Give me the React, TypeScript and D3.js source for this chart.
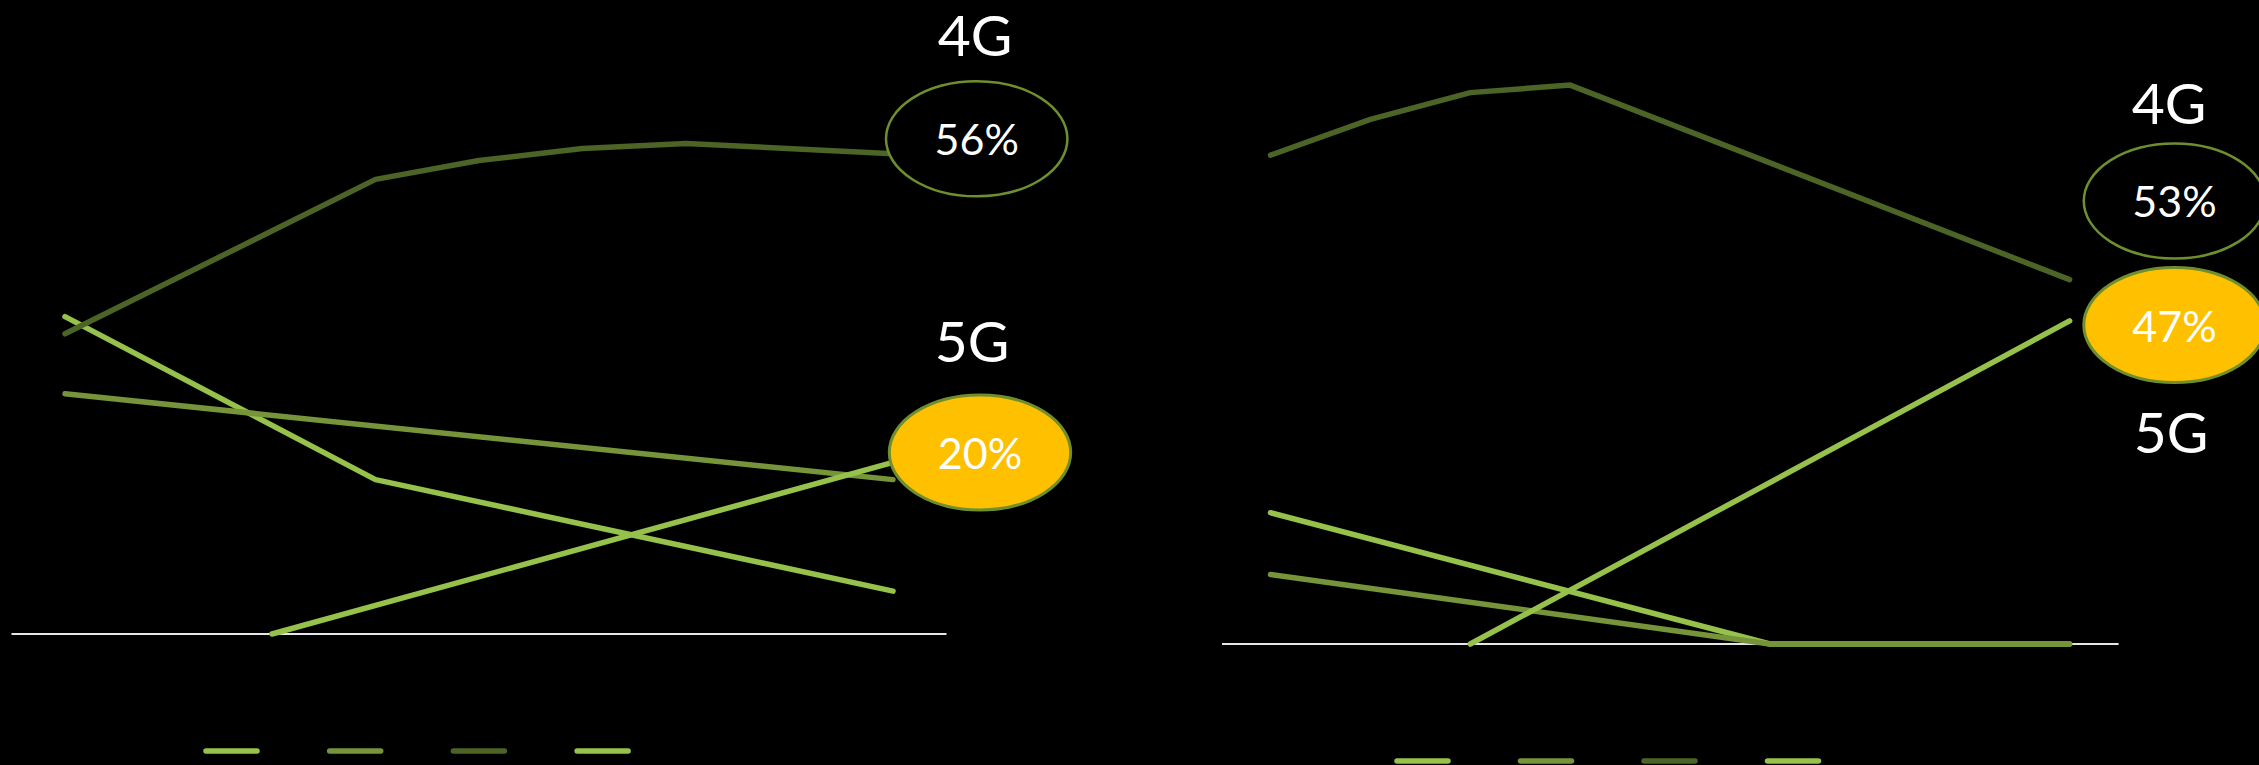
import React, { useEffect } from "react";
import * as d3 from "d3";

// ---------- DATA ----------
const years = [2017, 2018, 2019, 2020, 2021, 2022, 2023, 2024, 2025];
const seriesNames = ["2G", "3G", "4G", "5G"];
const seriesColors = ["#96C14A", "#76953A", "#4C6426", "#96C14A"];

// Left chart (null = no data point at that year)
const left2G: (number | null)[] = [37, null, null, 18, null, null, null, null, 5];
const left3G: (number | null)[] = [28, null, null, null, null, null, null, null, 18];
const left4G: (number | null)[] = [35, null, null, 53, 55.2, 56.6, 57.2, null, 56];
const left5G: (number | null)[] = [null, null, 0, null, null, null, null, null, 20];

// Right chart
const right2G: (number | null)[] = [19.1, null, null, null, null, 0, null, null, 0];
const right3G: (number | null)[] = [10.1, null, null, null, null, 0, null, null, 0];
const right4G: (number | null)[] = [71.1, 76.3, 80.2, 81.3, null, null, null, null, 53];
const right5G: (number | null)[] = [null, null, 0, null, null, null, null, null, 47];

const leftLabels = { g4: "4G", g4Value: "56%", g5: "5G", g5Value: "20%" };
const rightLabels = { g4: "4G", g4Value: "53%", g5: "5G", g5Value: "47%" };

// ---------- LAYOUT ----------
const W = 2259;
const H = 765;
const FONT = "Lato, 'Open Sans', sans-serif";
const ELLIPSE_STROKE = "#6F8F2E";
const YELLOW = "#FFC000";

type Panel = {
  series: (number | null)[][];
  xRange: [number, number];
  yDomain: [number, number];
  yRange: [number, number];
  baseX: [number, number];
  legendX: number;
  legendY: number;
  legendStep: number;
  labels: typeof leftLabels;
  g4Label: [number, number];
  g4Ell: [number, number];
  g5Label: [number, number];
  g5Ell: [number, number];
};

const panels: Panel[] = [
  {
    series: [left2G, left3G, left4G, left5G],
    xRange: [65, 893],
    yDomain: [0, 70],
    yRange: [634, 33.6],
    baseX: [11.5, 946.5],
    legendX: 206,
    legendY: 751,
    legendStep: 123.7,
    labels: leftLabels,
    g4Label: [975, 56],
    g4Ell: [976.7, 138.8],
    g5Label: [972, 362],
    g5Ell: [980, 452.5],
  },
  {
    series: [right2G, right3G, right4G, right5G],
    xRange: [1270.5, 2069.6],
    yDomain: [0, 90],
    yRange: [644, 25.25],
    baseX: [1222, 2118.6],
    legendX: 1397,
    legendY: 761,
    legendStep: 123.5,
    labels: rightLabels,
    g4Label: [2169, 124],
    g4Ell: [2174.5, 201],
    g5Label: [2171, 453],
    g5Ell: [2174.5, 325],
  },
];

function PanelView({ p }: { p: Panel }) {
  const x = d3.scaleLinear().domain([years[0], years[years.length - 1]]).range(p.xRange);
  const y = d3.scaleLinear().domain(p.yDomain).range(p.yRange);
  const line = d3
    .line<{ yr: number; v: number }>()
    .x((d) => x(d.yr))
    .y((d) => y(d.v));
  const RX = 90.7;
  const RY = 57.5;
  const legLen = 51;
  return (
    <g>
      <line x1={p.baseX[0]} x2={p.baseX[1]} y1={y(0)} y2={y(0)} stroke="#E6E6E6" strokeWidth={2} />
      {p.series.map((s, i) => {
        const pts = s
          .map((v, j) => ({ yr: years[j], v: v as number }))
          .filter((d) => d.v !== null && d.v !== undefined);
        return (
          <path
            key={i}
            d={line(pts) || ""}
            fill="none"
            stroke={seriesColors[i]}
            strokeWidth={5.5}
            strokeLinecap="round"
            strokeLinejoin="round"
          />
        );
      })}
      {seriesNames.map((n, i) => (
        <line
          key={n}
          x1={p.legendX + i * p.legendStep}
          x2={p.legendX + i * p.legendStep + legLen}
          y1={p.legendY}
          y2={p.legendY}
          stroke={seriesColors[i]}
          strokeWidth={5.5}
          strokeLinecap="round"
        />
      ))}
      <text x={p.g4Label[0]} y={p.g4Label[1]} fill="#fff" fontSize={57} fontFamily={FONT} textAnchor="middle">
        {p.labels.g4}
      </text>
      <ellipse cx={p.g4Ell[0]} cy={p.g4Ell[1]} rx={RX} ry={RY} fill="#000" stroke={ELLIPSE_STROKE} strokeWidth={2.5} />
      <text x={p.g4Ell[0]} y={p.g4Ell[1] + 16} fill="#fff" fontSize={43} fontFamily={FONT} textAnchor="middle">
        {p.labels.g4Value}
      </text>
      <text x={p.g5Label[0]} y={p.g5Label[1]} fill="#fff" fontSize={57} fontFamily={FONT} textAnchor="middle">
        {p.labels.g5}
      </text>
      <ellipse cx={p.g5Ell[0]} cy={p.g5Ell[1]} rx={RX} ry={RY} fill={YELLOW} stroke={ELLIPSE_STROKE} strokeWidth={3} />
      <text x={p.g5Ell[0]} y={p.g5Ell[1] + 16.5} fill="#fff" fontSize={43} fontFamily={FONT} textAnchor="middle">
        {p.labels.g5Value}
      </text>
    </g>
  );
}

export default function App() {
  useEffect(() => {
    document.body.style.margin = "0";
    document.body.style.background = "#000";
  }, []);
  return (
    <div style={{ position: "absolute", left: 0, top: 0, width: W, height: H, background: "#000", overflow: "hidden" }}>
      <svg width={W} height={H} style={{ display: "block" }}>
        <rect x={0} y={0} width={W} height={H} fill="#000" />
        {panels.map((p, i) => (
          <PanelView key={i} p={p} />
        ))}
      </svg>
    </div>
  );
}
